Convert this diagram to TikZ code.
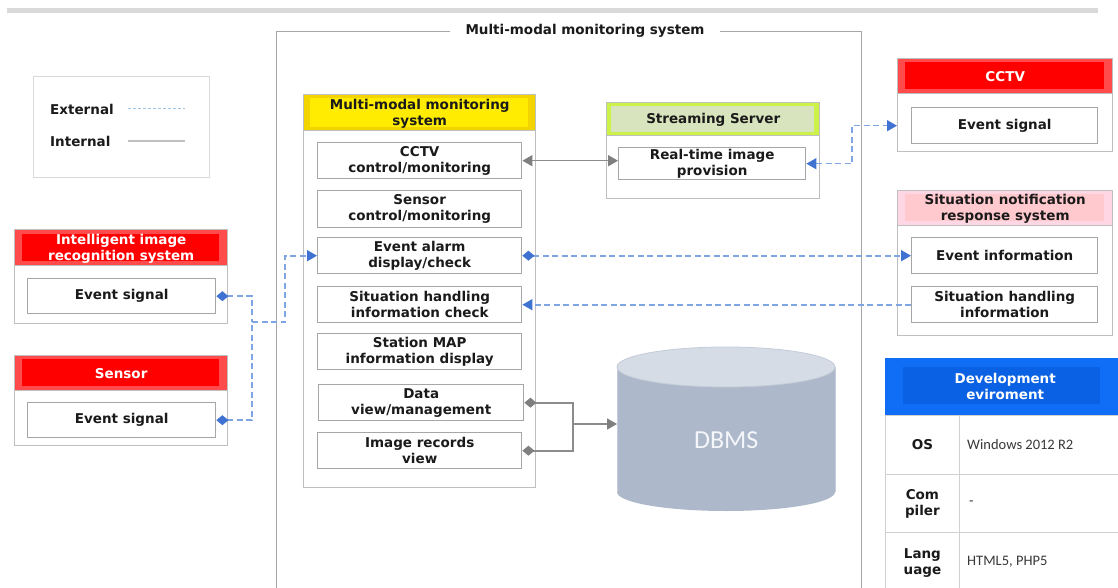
\documentclass[tikz,border=0pt]{standalone}
\usepackage{fontspec}
\setmainfont{DejaVu Sans}
\newfontfamily\valfont{Carlito}
\usetikzlibrary{arrows.meta}

\definecolor{ink}{HTML}{1A1A1A}
\definecolor{framegray}{HTML}{BFBFBF}
\definecolor{itemgray}{HTML}{A6A6A6}
\definecolor{sysgray}{HTML}{A6A6A6}
\definecolor{bargray}{HTML}{D9D9D9}
\definecolor{legendgray}{HTML}{D9D9D9}
\definecolor{extblue}{HTML}{7FA6E3}
\definecolor{tipblue}{HTML}{3F72D1}
\definecolor{legblue}{HTML}{9DC3E6}
\definecolor{intgray}{HTML}{8C8C8C}
\definecolor{tipgray}{HTML}{7F7F7F}
\definecolor{redOuter}{HTML}{FF4B4B}
\definecolor{redInner}{HTML}{FF0000}
\definecolor{yelOuter}{HTML}{F2D500}
\definecolor{yelInner}{HTML}{FFEC00}
\definecolor{grnOuter}{HTML}{CCF24A}
\definecolor{grnInner}{HTML}{D7E4BD}
\definecolor{pnkOuter}{HTML}{FFD6E3}
\definecolor{pnkInner}{HTML}{FFC9CE}
\definecolor{bluOuter}{HTML}{0F6EF5}
\definecolor{bluInner}{HTML}{0B61E3}
\definecolor{dbBody}{HTML}{ADB9CA}
\definecolor{dbTop}{HTML}{D6DCE5}
\definecolor{dbEdge}{HTML}{C3CCD8}
\definecolor{dbText}{HTML}{F4F6F9}
\definecolor{valink}{HTML}{383838}
\definecolor{cellgray}{HTML}{D0D0D0}

\tikzset{
  lbl/.style={font=\bfseries\fontsize{13.5}{16}\selectfont, text=ink, align=center},
  frame/.style={draw=framegray, line width=1.4pt, fill=white, inner sep=0pt, anchor=north west},
  item/.style={draw=itemgray, line width=1.4pt, fill=white, inner sep=0pt, anchor=north west, lbl},
  band/.style={draw=none, inner sep=0pt, anchor=north west},
  headband/.style={draw=framegray, line width=1.4pt, inner sep=0pt, anchor=north west},
  cell/.style={draw=cellgray, line width=0.8pt, inner sep=0pt, anchor=north west, lbl},
  valtxt/.style={font=\valfont\fontsize{14.5}{17}\selectfont, text=valink, inner sep=0pt, anchor=west},
  ext/.style={draw=extblue, line width=1.6pt, dash pattern=on 6pt off 3.5pt},
  int/.style={draw=intgray, line width=1.6pt},
  bArrow/.tip={Triangle[width=11pt,length=10pt,color=tipblue]},
  bDiamond/.tip={Diamond[width=10pt,length=12pt,color=tipblue]},
  gArrow/.tip={Triangle[width=11pt,length=10pt,color=tipgray]},
  gDiamond/.tip={Diamond[width=10pt,length=12pt,color=tipgray]},
}

\begin{document}
\begin{tikzpicture}[x=1pt,y=-1pt]
\useasboundingbox (0,0) rectangle (1118,588);
\fill[white] (0,0) rectangle (1118,588);

% top rule
\draw[bargray, line width=5pt] (7,11) -- (1098,11);

% overall system frame with its title
\node[frame, draw=sysgray, fill=none, minimum width=585, minimum height=600] (sys) at (276,31) {};
\node[lbl, fill=white, inner xsep=16pt, inner ysep=2pt] (sysTitle) at (585,31) {Multi-modal monitoring system};

% legend
\node[frame, draw=legendgray, minimum width=176, minimum height=101] (legend) at (33,76) {};
\node[lbl, anchor=west, inner sep=0pt] (lgExt) at (50,109) {External};
\node[lbl, anchor=west, inner sep=0pt] (lgInt) at (50,141) {Internal};
\draw[legblue, line width=1pt, dash pattern=on 3pt off 2pt] (128,109) -- (185,109);
\draw[framegray, line width=2pt] (128,141) -- (185,141);

% intelligent image recognition system
\node[frame, minimum width=213, minimum height=94] (irs) at (14,229) {};
\node[headband, fill=redOuter, minimum width=213, minimum height=36] (irsHead) at (14,229) {};
\node[band, fill=redInner, minimum width=197, minimum height=27] at (22,233.5) {};
\node[lbl, text=white] at ([yshift=-1pt]irsHead.center) {Intelligent image\\recognition system};
\node[item, minimum width=188, minimum height=35] (ies) at (27,278) {Event signal};

% sensor
\node[frame, minimum width=213, minimum height=90] (sen) at (14,355) {};
\node[headband, fill=redOuter, minimum width=213, minimum height=35] (senHead) at (14,355) {};
\node[band, fill=redInner, minimum width=197, minimum height=27] at (22,359) {};
\node[lbl, text=white] at (senHead.center) {Sensor};
\node[item, minimum width=188, minimum height=35] (ses) at (27,402) {Event signal};

% monitoring system functions
\node[frame, minimum width=232, minimum height=393] (mms) at (303,94) {};
\node[headband, fill=yelOuter, minimum width=232, minimum height=36] (mmsHead) at (303,94) {};
\node[band, fill=yelInner, minimum width=218, minimum height=29] at (310,97.5) {};
\node[lbl] at ([yshift=-1pt]mmsHead.center) {Multi-modal monitoring\\system};
\node[item, minimum width=204, minimum height=36] (cctvCtl) at (317,142) {CCTV\\control/monitoring};
\node[item, minimum width=204, minimum height=37] (senCtl) at (317,190) {Sensor\\control/monitoring};
\node[item, minimum width=204, minimum height=36] (alarm) at (317,237) {Event alarm\\display/check};
\node[item, minimum width=204, minimum height=36] (shCheck) at (317,286) {Situation handling\\information check};
\node[item, minimum width=204, minimum height=36] (mapView) at (317,333) {Station MAP\\information display};
\node[item, minimum width=205, minimum height=36] (dataView) at (318,384) {Data\\view/management};
\node[item, minimum width=204, minimum height=36] (imgRec) at (317,432) {Image records\\view};

% streaming server
\node[frame, minimum width=213, minimum height=96] (ss) at (606,102) {};
\node[headband, fill=grnOuter, minimum width=213, minimum height=33] (ssHead) at (606,102) {};
\node[band, fill=grnInner, minimum width=203, minimum height=26] at (611,105.5) {};
\node[lbl] at ([yshift=-1pt]ssHead.center) {Streaming Server};
\node[item, minimum width=187, minimum height=32] (rt) at (618,147) {Real-time image\\provision};

% CCTV
\node[frame, minimum width=215, minimum height=93] (cctv) at (897,58) {};
\node[headband, fill=redOuter, minimum width=215, minimum height=35] (cctvHead) at (897,58) {};
\node[band, fill=redInner, minimum width=199, minimum height=27] at (905,62) {};
\node[lbl, text=white] at (cctvHead.center) {CCTV};
\node[item, minimum width=186, minimum height=36] (cctvSig) at (911,107) {Event signal};

% situation notification response system
\node[frame, minimum width=215, minimum height=145] (snr) at (897,190) {};
\node[headband, fill=pnkOuter, minimum width=215, minimum height=35] (snrHead) at (897,190) {};
\node[band, fill=pnkInner, minimum width=199, minimum height=27] at (905,194) {};
\node[lbl] at ([yshift=-1pt]snrHead.center) {Situation notification\\response system};
\node[item, minimum width=186, minimum height=36] (evInfo) at (911,237) {Event information};
\node[item, minimum width=186, minimum height=36] (shInfo) at (911,286) {Situation handling\\information};

% database cylinder
\fill[dbBody] (726,492) ellipse[x radius=109, y radius=19];
\fill[dbBody] (617,367) rectangle (835,492);
\draw[dbEdge, line width=0.8pt] (617,367) -- (617,492) (835,367) -- (835,492);
\filldraw[fill=dbTop, draw=dbEdge, line width=0.8pt] (726,367) ellipse[x radius=109, y radius=20];
\node[band, minimum width=218, minimum height=164] (dbms) at (617,348) {};
\node[font=\valfont\fontsize{26}{26}\selectfont, text=dbText, inner sep=0pt] at ([yshift=-10pt]dbms.center) {DBMS};

% development environment table
\node[band, fill=bluOuter, minimum width=240, minimum height=57] (devHead) at (885,358) {};
\node[band, fill=bluInner, minimum width=197, minimum height=37] at (903,367) {};
\node[lbl, text=white] at (devHead.center) {Development\\eviroment};
\node[cell, minimum width=74, minimum height=59] (osKey) at (885,415) {OS};
\node[cell, minimum width=170, minimum height=59] (osVal) at (959,415) {};
\node[cell, minimum width=74, minimum height=58] (cmpKey) at (885,474) {Com\\piler};
\node[cell, minimum width=170, minimum height=58] (cmpVal) at (959,474) {};
\node[cell, minimum width=74, minimum height=62] (lngKey) at (885,532) {Lang\\uage};
\node[cell, minimum width=170, minimum height=62] (lngVal) at (959,532) {};
\node[valtxt] at ([xshift=8pt]osVal.west) {Windows 2012 R2};
\node[valtxt] at ([xshift=10pt]cmpVal.west) {-};
\node[valtxt] at ([xshift=8pt,yshift=2pt]lngVal.west) {HTML5,\ PHP5};

% external links
\coordinate (evBus) at (252,322);
\draw[ext, {bDiamond}-] (ies.east) -| (evBus);
\draw[ext, {bDiamond}-] (ses.east) -| (evBus);
\draw[ext, -{bArrow}] (evBus) -- ++(33,0) |- (alarm.west);
\draw[ext, {bDiamond}-{bArrow}] (alarm.east) -- (evInfo.west);
\draw[ext, -{bArrow}] (shInfo.west) -- (shCheck.east);
\coordinate (camBend) at (852,140);
\draw[ext, {bArrow}-{bArrow}] (rt.east) -| (camBend) |- (cctv.west |- cctvSig.west);

% internal links
\draw[int, {gArrow}-{gArrow}] (cctvCtl.east) -- (cctvCtl.east -| rt.west);
\coordinate (dbBus) at (573,424);
\draw[int, {gDiamond}-] (dataView.east) -| (dbBus);
\draw[int, {gDiamond}-] (imgRec.east) -| (dbBus);
\draw[int, -{gArrow}] (dbBus) -- (dbBus -| dbms.west);
\end{tikzpicture}
\end{document}
